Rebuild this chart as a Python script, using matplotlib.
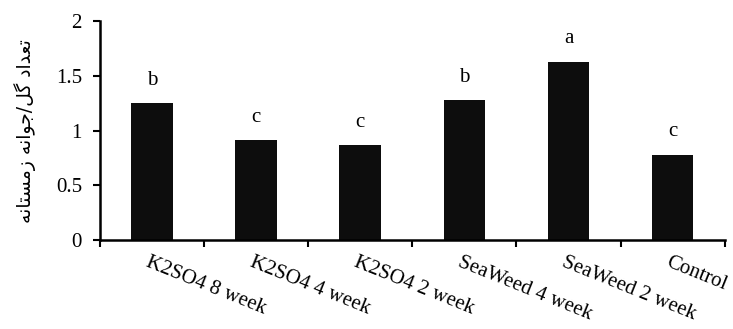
import matplotlib
matplotlib.use("Agg")
import matplotlib.pyplot as plt
import numpy as np

categories = ["K2SO4 8 week", "K2SO4 4 week", "K2SO4 2 week",
              "SeaWeed 4 week", "SeaWeed 2 week", "Control"]
values = [1.25, 0.91, 0.87, 1.28, 1.63, 0.78]
letters = ["b", "c", "c", "b", "a", "c"]
y_ticks = [0, 0.5, 1, 1.5, 2]
y_tick_labels = ["0", "0.5", "1", "1.5", "2"]
y_label = "تعداد گل/جوانه زمستانه"

# presentation forms: isolated, final, initial, medial (None = letter does not join forward)
forms = {
    "ا": ("\uFE8D", "\uFE8E", None, None),
    "د": ("\uFEA9", "\uFEAA", None, None),
    "ز": ("\uFEAF", "\uFEB0", None, None),
    "و": ("\uFEED", "\uFEEE", None, None),
    "ت": ("\uFE95", "\uFE96", "\uFE97", "\uFE98"),
    "ع": ("\uFEC9", "\uFECA", "\uFECB", "\uFECC"),
    "گ": ("\uFB92", "\uFB93", "\uFB94", "\uFB95"),
    "ل": ("\uFEDD", "\uFEDE", "\uFEDF", "\uFEE0"),
    "ج": ("\uFE9D", "\uFE9E", "\uFE9F", "\uFEA0"),
    "ن": ("\uFEE5", "\uFEE6", "\uFEE7", "\uFEE8"),
    "ه": ("\uFEE9", "\uFEEA", "\uFEEB", "\uFEEC"),
    "م": ("\uFEE1", "\uFEE2", "\uFEE3", "\uFEE4"),
    "س": ("\uFEB1", "\uFEB2", "\uFEB3", "\uFEB4"),
}


def shape_rtl(s):
    # pick contextual glyphs, then reverse for left-to-right drawing
    out = []
    for i, ch in enumerate(s):
        if ch not in forms:
            out.append(ch)
            continue
        prev = s[i - 1] if i > 0 else ""
        nxt = s[i + 1] if i + 1 < len(s) else ""
        joins_prev = prev in forms and forms[prev][2] is not None
        joins_next = nxt in forms and forms[ch][2] is not None
        iso, fin, ini, med = forms[ch]
        if joins_prev and joins_next:
            out.append(med)
        elif joins_prev:
            out.append(fin)
        elif joins_next:
            out.append(ini)
        else:
            out.append(iso)
    return "".join(out)[::-1]


plt.rcParams["font.family"] = ["Liberation Serif", "DejaVu Sans"]

fig = plt.figure(figsize=(7.33, 3.29), dpi=100)
ax = fig.add_axes([0.1364, 0.2705, 0.8522, 0.6655])

x = np.arange(len(categories)) + 0.5
ax.bar(x, values, width=0.4, color="#0d0d0d")

for xi, v, t in zip(x, values, letters):
    ax.text(xi, v + 0.12, t, ha="center", va="bottom", fontsize=15)

ax.set_xlim(0, len(categories))
ax.set_ylim(0, 2)
ax.set_yticks(y_ticks)
ax.set_yticklabels(y_tick_labels)
ax.set_xticks(np.arange(len(categories) + 1))
ax.set_xticklabels([])
ax.tick_params(axis="both", direction="out", length=5, width=1.5, labelsize=15)
ax.tick_params(axis="y", pad=8)

# slanted category names, allowed to run past the figure edge
for xi, name in zip(x, categories):
    ax.text(xi - 0.02, -0.12, name, rotation=-22, rotation_mode="anchor",
            ha="left", va="top", fontsize=15, clip_on=False)

for side in ["top", "right"]:
    ax.spines[side].set_visible(False)
for side in ["left", "bottom"]:
    ax.spines[side].set_linewidth(1.8)

fig.text(0.034, 0.60, shape_rtl(y_label), rotation=90, ha="center", va="center",
         fontsize=13.5, family=["DejaVu Sans"])

fig.savefig("out.png", dpi=100)
